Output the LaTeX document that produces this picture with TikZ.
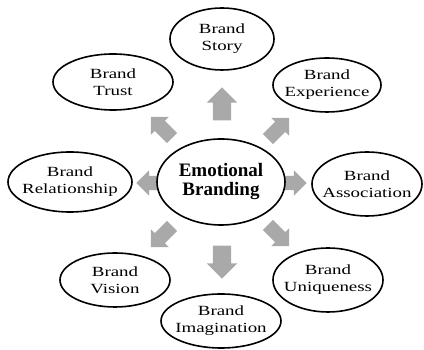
\documentclass[tikz,border=0pt]{standalone}
\usepackage{fontspec}
\setmainfont{Liberation Serif}
\newfontfamily\brandfont[FakeStretch=1.35]{Liberation Serif}
\usepackage{xcolor}
\usepackage{tikz}
\usetikzlibrary{shapes.geometric,shapes.arrows}
\definecolor{arrowgray}{HTML}{A9A9A9}
\tikzset{
  bubble/.style={ellipse,draw=black,line width=1.6pt,fill=white,inner xsep=-14pt,inner ysep=-4pt,align=center,
    font=\brandfont\fontsize{14}{17}\selectfont},
  bigarrow/.style={single arrow,fill=arrowgray,draw=none,inner xsep=0pt,inner ysep=9pt,
    minimum height=33pt,single arrow head extend=6pt},
  smallarrow/.style={bigarrow,minimum height=30pt,inner ysep=7pt,single arrow head extend=5.5pt}
}
\begin{document}
\begin{tikzpicture}[x=1pt,y=1pt]
  \useasboundingbox (0,0) rectangle (424,350);
  % block arrows first, bubbles drawn over them
  \node[bigarrow,rotate=90]    (arrN)  at (222,241.5) {};
  \node[bigarrow,rotate=-90]   (arrS)  at (222,92.5) {};
  \node[smallarrow,rotate=135] (arrNW) at (164,220) {};
  \node[smallarrow,rotate=45]  (arrNE) at (276,219) {};
  \node[smallarrow,rotate=225] (arrSW) at (164,116) {};
  \node[smallarrow,rotate=-45] (arrSE) at (276,117) {};
  \node[smallarrow,rotate=180] (arrW)  at (155,167) {};
  \node[smallarrow]            (arrE)  at (288,167) {};
  % centre
  \node[bubble,minimum width=128pt,minimum height=86pt,font=\bfseries\fontsize{19}{19}\selectfont]
    (emo) at (221,168) {Emotional\\Branding};
  % satellites
  \node[bubble,minimum width=104pt,minimum height=62pt] (story) at (222,311) {Brand\\Story};
  \node[bubble,minimum width=120pt,minimum height=56pt] (trust) at (113,268) {Brand\\Trust};
  \node[bubble,minimum width=108pt,minimum height=54pt] (exper) at (327,265) {Brand\\Experience};
  \node[bubble,minimum width=124pt,minimum height=60pt] (relat) at (70,168) {Brand\\Relationship};
  \node[bubble,minimum width=110pt,minimum height=64pt] (assoc) at (367,166) {Brand\\Association};
  \node[bubble,minimum width=110pt,minimum height=54pt] (vision) at (115,70) {Brand\\Vision};
  \node[bubble,minimum width=110pt,minimum height=64pt] (uniq) at (328,70) {Brand\\Uniqueness};
  \node[bubble,minimum width=120pt,minimum height=54pt] (imag) at (221,29) {Brand\\Imagination};
\end{tikzpicture}
\end{document}
